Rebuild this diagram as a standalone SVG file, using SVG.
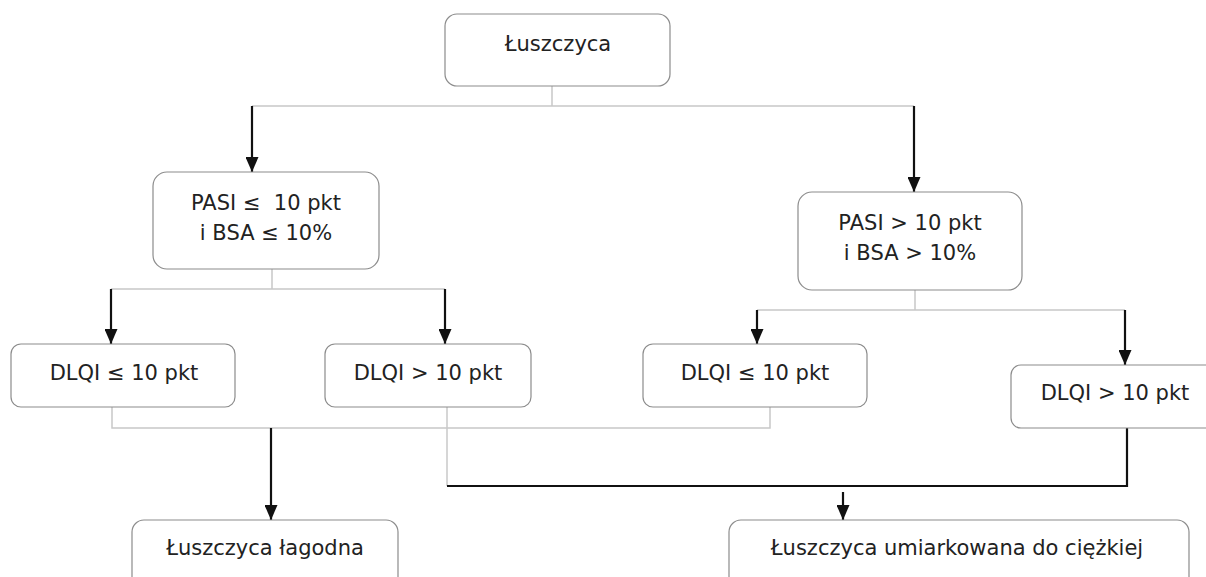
<svg xmlns="http://www.w3.org/2000/svg" width="1206" height="577" viewBox="0 0 1206 577">
<style>
.box{fill:#fff;stroke:#8c8c8c;stroke-width:1.2}
.t{font-family:"DejaVu Sans",Verdana,sans-serif;font-size:21px;fill:#222;text-anchor:middle}
.g{fill:none;stroke:#c8c8c8;stroke-width:1.5}
.k{fill:none;stroke:#111;stroke-width:2.2}
.a{fill:none;stroke:#111;stroke-width:2.2;marker-end:url(#ah)}
</style>
<defs>
<marker id="ah" markerUnits="userSpaceOnUse" markerWidth="15" markerHeight="13" refX="15" refY="6.5" orient="auto">
<path d="M0,0 L15,6.5 L0,13 z" fill="#111"/>
</marker>
</defs>
<rect width="1206" height="577" fill="#fff"/>
<g id="connectors">
<path class="g" d="M552,86 V106 M252,106 H914"/>
<path class="a" d="M252,106 V172"/>
<path class="a" d="M914,106 V192"/>
<path class="g" d="M272,269 V289 M111,289 H445"/>
<path class="a" d="M111,289 V344"/>
<path class="a" d="M445,289 V344"/>
<path class="g" d="M915,290 V310 M757,310 H1125"/>
<path class="a" d="M757,310 V344"/>
<path class="a" d="M1125,310 V365"/>
<path class="g" d="M112,407 V428 H770 V407"/>
<path class="a" d="M271,428 V520"/>
<path class="g" d="M447,407 V486"/>
<path class="k" d="M447,486 H1127 V428"/>
<path class="a" d="M843,492 V520"/>
</g>
<g id="n-luszczyca">
<rect class="box" x="445" y="14" width="225" height="72" rx="12"/>
<text class="t" x="558" y="51">Łuszczyca</text>
</g>
<g id="n-pasi-low">
<rect class="box" x="153" y="172" width="226" height="97" rx="14"/>
<text class="t" x="266" y="210" xml:space="preserve">PASI ≤  10 pkt</text>
<text class="t" x="266" y="240">i BSA ≤ 10%</text>
</g>
<g id="n-pasi-high">
<rect class="box" x="798" y="192" width="224" height="98" rx="14"/>
<text class="t" x="910" y="230">PASI &gt; 10 pkt</text>
<text class="t" x="910" y="260">i BSA &gt; 10%</text>
</g>
<g id="n-dlqi-1">
<rect class="box" x="11" y="344" width="224" height="63" rx="10"/>
<text class="t" x="124" y="380">DLQI ≤ 10 pkt</text>
</g>
<g id="n-dlqi-2">
<rect class="box" x="325" y="344" width="206" height="63" rx="10"/>
<text class="t" x="428" y="380">DLQI &gt; 10 pkt</text>
</g>
<g id="n-dlqi-3">
<rect class="box" x="643" y="344" width="224" height="63" rx="10"/>
<text class="t" x="755" y="380">DLQI ≤ 10 pkt</text>
</g>
<g id="n-dlqi-4">
<rect class="box" x="1011" y="365" width="215" height="63" rx="10"/>
<text class="t" x="1115" y="400">DLQI &gt; 10 pkt</text>
</g>
<g id="n-lagodna">
<rect class="box" x="132" y="520" width="266" height="80" rx="12"/>
<text class="t" x="265" y="555">Łuszczyca łagodna</text>
</g>
<g id="n-umiarkowana">
<rect class="box" x="729" y="520" width="460" height="80" rx="12"/>
<text class="t" x="957" y="555">Łuszczyca umiarkowana do ciężkiej</text>
</g>
</svg>
